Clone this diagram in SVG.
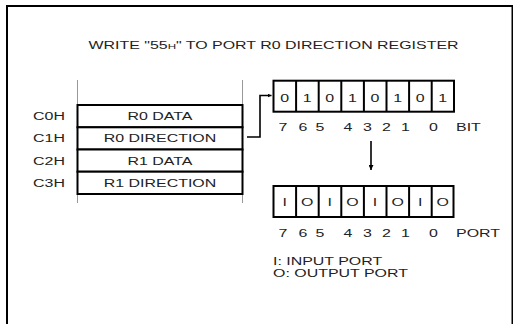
<svg xmlns="http://www.w3.org/2000/svg" width="513" height="324" viewBox="0 0 513 324">
<defs>
<style>
text{font-family:"Liberation Sans",Arial,sans-serif;font-size:11px;fill:#222}
.box{fill:none;stroke:#000;stroke-width:2}
.grey{stroke:#999;stroke-width:1;fill:none}
.con{fill:none;stroke:#000;stroke-width:1.6}
.m{text-anchor:middle}
.e{text-anchor:end}
</style>
<marker id="ah" viewBox="0 0 10 10" refX="10" refY="5" markerWidth="4" markerHeight="4" orient="auto" markerUnits="userSpaceOnUse">
<path d="M0,0 L10,5 L0,10 Z" fill="#000"/>
</marker>
<marker id="ah2" viewBox="0 0 10 10" refX="10" refY="5" markerWidth="6" markerHeight="5" orient="auto" markerUnits="userSpaceOnUse">
<path d="M0,0 L10,5 L0,10 Z" fill="#000"/>
</marker>
</defs>
<rect id="frame" x="7" y="6" width="505.5" height="340" class="box"/>
<g id="title">
<text class="m" transform="matrix(1.45 0 0 1 273.5 49)">WRITE "55<tspan font-size="8">H</tspan>" TO PORT R0 DIRECTION REGISTER</text>
</g>
<g id="memory">
<line class="grey" x1="77.5" y1="80" x2="77.5" y2="203"/>
<line class="grey" x1="242.5" y1="80" x2="242.5" y2="203"/>
<g id="row-c0">
<rect x="77.5" y="105" width="165" height="22.3" class="box" fill="#fff" style="fill:#fff"/>
<text class="m" transform="matrix(1.45 0 0 1 160 120)">R0 DATA</text>
<text class="e" transform="matrix(1.45 0 0 1 65 120)">C0H</text>
</g>
<g id="row-c1">
<rect x="77.5" y="127.3" width="165" height="22.2" class="box" style="fill:#fff"/>
<text class="m" transform="matrix(1.45 0 0 1 160 142.3)">R0 DIRECTION</text>
<text class="e" transform="matrix(1.45 0 0 1 65 142.3)">C1H</text>
</g>
<g id="row-c2">
<rect x="77.5" y="149.5" width="165" height="22.2" class="box" style="fill:#fff"/>
<text class="m" transform="matrix(1.45 0 0 1 160 164.5)">R1 DATA</text>
<text class="e" transform="matrix(1.45 0 0 1 65 164.5)">C2H</text>
</g>
<g id="row-c3">
<rect x="77.5" y="171.7" width="165" height="22.3" class="box" style="fill:#fff"/>
<text class="m" transform="matrix(1.45 0 0 1 160 186.8)">R1 DIRECTION</text>
<text class="e" transform="matrix(1.45 0 0 1 65 186.8)">C3H</text>
</g>
</g>
<g id="bit-register">
<rect x="273.5" y="80.7" width="180.5" height="31" class="box"/>
<path class="box" d="M296.1,80.7V111.7M318.7,80.7V111.7M341.3,80.7V111.7M363.9,80.7V111.7M386.5,80.7V111.7M409.1,80.7V111.7M431.7,80.7V111.7"/>
<text class="m" transform="matrix(1.45 0 0 1 284.6 101.5)">0</text>
<text class="m" transform="matrix(1.45 0 0 1 307.2 101.5)">1</text>
<text class="m" transform="matrix(1.45 0 0 1 329.8 101.5)">0</text>
<text class="m" transform="matrix(1.45 0 0 1 352.4 101.5)">1</text>
<text class="m" transform="matrix(1.45 0 0 1 375 101.5)">0</text>
<text class="m" transform="matrix(1.45 0 0 1 397.6 101.5)">1</text>
<text class="m" transform="matrix(1.45 0 0 1 420.2 101.5)">0</text>
<text class="m" transform="matrix(1.45 0 0 1 442.8 101.5)">1</text>
<text class="m" transform="matrix(1.45 0 0 1 283 131)">7</text>
<text class="m" transform="matrix(1.45 0 0 1 303 131)">6</text>
<text class="m" transform="matrix(1.45 0 0 1 320 131)">5</text>
<text class="m" transform="matrix(1.45 0 0 1 348 131)">4</text>
<text class="m" transform="matrix(1.45 0 0 1 367.5 131)">3</text>
<text class="m" transform="matrix(1.45 0 0 1 386.5 131)">2</text>
<text class="m" transform="matrix(1.45 0 0 1 405.5 131)">1</text>
<text class="m" transform="matrix(1.45 0 0 1 433.5 131)">0</text>
<text transform="matrix(1.45 0 0 1 456 131)">BIT</text>
</g>
<g id="port-register">
<rect x="273.5" y="186" width="180" height="31" class="box"/>
<path class="box" d="M296.1,186V217M318.7,186V217M341.3,186V217M363.9,186V217M386.5,186V217M409.1,186V217M431.7,186V217"/>
<text class="m" transform="matrix(1.45 0 0 1 284.6 206)">I</text>
<text class="m" transform="matrix(1.45 0 0 1 307.2 206)">O</text>
<text class="m" transform="matrix(1.45 0 0 1 329.8 206)">I</text>
<text class="m" transform="matrix(1.45 0 0 1 352.4 206)">O</text>
<text class="m" transform="matrix(1.45 0 0 1 375 206)">I</text>
<text class="m" transform="matrix(1.45 0 0 1 397.6 206)">O</text>
<text class="m" transform="matrix(1.45 0 0 1 420.2 206)">I</text>
<text class="m" transform="matrix(1.45 0 0 1 442.8 206)">O</text>
<text class="m" transform="matrix(1.45 0 0 1 283 236.5)">7</text>
<text class="m" transform="matrix(1.45 0 0 1 303 236.5)">6</text>
<text class="m" transform="matrix(1.45 0 0 1 320 236.5)">5</text>
<text class="m" transform="matrix(1.45 0 0 1 348 236.5)">4</text>
<text class="m" transform="matrix(1.45 0 0 1 367.5 236.5)">3</text>
<text class="m" transform="matrix(1.45 0 0 1 386.5 236.5)">2</text>
<text class="m" transform="matrix(1.45 0 0 1 405.5 236.5)">1</text>
<text class="m" transform="matrix(1.45 0 0 1 433.5 236.5)">0</text>
<text transform="matrix(1.45 0 0 1 456 236.5)">PORT</text>
</g>
<g id="legend">
<text transform="matrix(1.45 0 0 1 273 265)">I: INPUT PORT</text>
<text transform="matrix(1.45 0 0 1 273 277)">O: OUTPUT PORT</text>
</g>
<g id="connectors">
<path class="con" d="M247,137H260V95.5H271.5" marker-end="url(#ah)"/>
<path class="con" d="M371,141V170" stroke-width="2" marker-end="url(#ah2)"/>
</g>
</svg>
